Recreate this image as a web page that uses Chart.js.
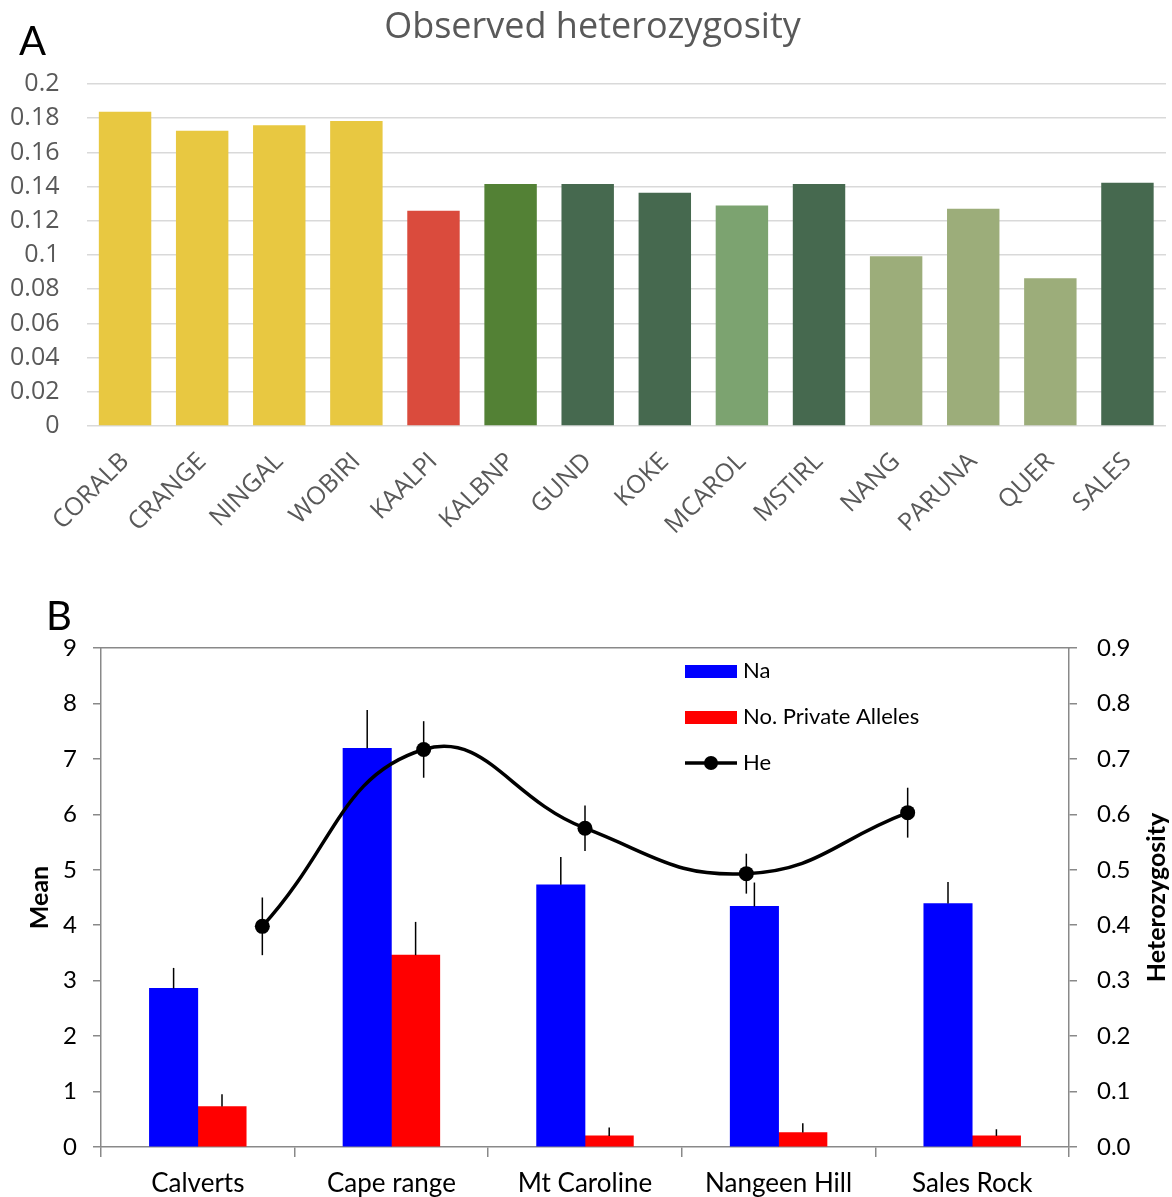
<!DOCTYPE html>
<html>
<head>
<meta charset="utf-8">
<script src="https://cdn.jsdelivr.net/npm/chart.js@4.4.1/dist/chart.umd.min.js"></script>
<style>
    html, body { margin: 0; padding: 0; background: #fff; }
    body { width: 1172px; height: 1197px; position: relative; overflow: hidden; font-family: Lato, sans-serif; }
    .panel { position: absolute; left: 0; }
    .letter { position: absolute; font-size: 40px; color: #000; line-height: 1; }
    #titleA { position: absolute; left: 0; top: 2px; width: 1185px; text-align: center;
              font-family: "Open Sans", sans-serif; font-size: 36px; color: #595959; line-height: 46px; }
</style>
</head>
<body>
<div class="panel" style="top:0; width:1172px; height:560px;">
    <canvas id="chartA" width="1172" height="560"></canvas>
</div>
<div class="panel" style="top:560px; width:1172px; height:637px;">
    <canvas id="chartB" width="1172" height="637"></canvas>
</div>
<div id="titleA">Observed heterozygosity</div>
<div class="letter" style="left:19px; top:20px;">A</div>
<div class="letter" style="left:46px; top:595px;">B</div>

<script>
// Panel A: observed heterozygosity per population
const popLabels = ['CORALB', 'CRANGE', 'NINGAL', 'WOBIRI', 'KAALPI', 'KALBNP', 'GUND',
                   'KOKE', 'MCAROL', 'MSTIRL', 'NANG', 'PARUNA', 'QUER', 'SALES'];
const hoValues = [0.1838, 0.1727, 0.1759, 0.1784, 0.1259, 0.1415, 0.1415,
                  0.1364, 0.1290, 0.1415, 0.0992, 0.1271, 0.0864, 0.1423];
const hoColors = ['#e8c841', '#e8c841', '#e8c841', '#e8c841', '#da4b3d', '#538135', '#46694f',
                  '#46694f', '#7ca370', '#46694f', '#9cad7a', '#9cad7a', '#9cad7a', '#46694f'];

// Panel B: per-site means with standard errors
const sites = ['Calverts', 'Cape range', 'Mt Caroline', 'Nangeen Hill', 'Sales Rock'];
const naMean = [2.86, 7.19, 4.73, 4.34, 4.39];
const naErr = [0.37, 0.69, 0.50, 0.43, 0.39];
const paMean = [0.73, 3.46, 0.20, 0.26, 0.20];
const paErr = [0.22, 0.60, 0.15, 0.17, 0.12];
const heMean = [0.398, 0.717, 0.575, 0.493, 0.603];
const heErr = [0.052, 0.051, 0.041, 0.036, 0.045];

const axisGray = '#898989';

(function() {
    const ctxA = document.getElementById('chartA').getContext('2d');
    new Chart(ctxA, {
        type: 'bar',
        data: {
            labels: popLabels,
            datasets: [{
                data: hoValues,
                backgroundColor: hoColors,
                borderWidth: 0,
                barPercentage: 0.68,
                categoryPercentage: 1
            }]
        },
        options: {
            responsive: false,
            animation: false,
            layout: { padding: { top: 84, right: 6, left: 0, bottom: 0 } },
            plugins: { legend: { display: false }, tooltip: { enabled: false } },
            scales: {
                x: {
                    grid: { display: false },
                    border: { display: false },
                    ticks: {
                        autoSkip: false, minRotation: 45, maxRotation: 45,
                        font: { family: 'Open Sans', size: 25 }, color: '#595959', padding: 13
                    },
                    afterFit: function(s) { s.height = 134; }
                },
                y: {
                    min: 0, max: 0.2,
                    ticks: {
                        stepSize: 0.02,
                        font: { family: 'Open Sans', size: 25 }, color: '#595959', padding: 27,
                        callback: function(v) { return String(parseFloat(v.toFixed(2))); }
                    },
                    grid: { color: '#d9d9d9', lineWidth: 1.5, drawTicks: false },
                    border: { display: false },
                    afterFit: function(s) { s.width = 86.5; }
                }
            }
        }
    });

    // error bars: up only for bars, both ways for the He points
    const errorBars = {
        id: 'errorBars',
        afterDatasetsDraw: function(chart) {
            const ctx = chart.ctx;
            ctx.save();
            ctx.strokeStyle = '#000';
            ctx.lineWidth = 1.5;
            chart.data.datasets.forEach(function(ds, i) {
                const meta = chart.getDatasetMeta(i);
                const yScale = chart.scales[ds.yAxisID];
                meta.data.forEach(function(el, j) {
                    const v = ds.type === 'line' ? ds.data[j].y : ds.data[j];
                    const top = yScale.getPixelForValue(v + ds.errors[j]);
                    const bottom = ds.type === 'line' ? yScale.getPixelForValue(v - ds.errors[j]) : el.y;
                    ctx.beginPath();
                    ctx.moveTo(el.x, top);
                    ctx.lineTo(el.x, bottom);
                    ctx.stroke();
                });
            });
            ctx.restore();
        }
    };

    // legend inside the plot area and right axis title (reads upward)
    const extras = {
        id: 'extras',
        afterDraw: function(chart) {
            const ctx = chart.ctx;
            const ds = chart.data.datasets;
            const lx = 685, tx = 743;
            ctx.save();
            ctx.font = '22px Lato';
            ctx.textBaseline = 'middle';
            ctx.fillStyle = ds[1].backgroundColor;
            ctx.fillRect(lx, 105, 52, 13);
            ctx.fillStyle = ds[2].backgroundColor;
            ctx.fillRect(lx, 151, 52, 13);
            ctx.strokeStyle = '#000';
            ctx.lineWidth = 3.5;
            ctx.beginPath();
            ctx.moveTo(lx, 203);
            ctx.lineTo(lx + 52, 203);
            ctx.stroke();
            ctx.fillStyle = '#000';
            ctx.beginPath();
            ctx.arc(lx + 26, 203, 7, 0, Math.PI * 2);
            ctx.fill();
            ctx.fillText(ds[1].label, tx, 111);
            ctx.fillText(ds[2].label, tx, 157);
            ctx.fillText(ds[0].label, tx, 203);

            const area = chart.chartArea;
            ctx.translate(1157, (area.top + area.bottom) / 2);
            ctx.rotate(-Math.PI / 2);
            ctx.font = 'bold 25px Lato';
            ctx.textAlign = 'center';
            ctx.fillText('Heterozygosity', 0, 0);
            ctx.restore();
        }
    };

    const ctxB = document.getElementById('chartB').getContext('2d');
    new Chart(ctxB, {
        type: 'bar',
        data: {
            labels: sites,
            datasets: [
                {
                    type: 'line',
                    label: 'He',
                    data: heMean.map(function(v, i) { return { x: i + 1, y: v }; }),
                    errors: heErr,
                    xAxisID: 'x2',
                    yAxisID: 'y1',
                    borderColor: '#000',
                    backgroundColor: '#000',
                    borderWidth: 3.5,
                    pointRadius: 7.5,
                    pointBorderWidth: 0,
                    tension: 0.45,
                    fill: false,
                    order: 0
                },
                {
                    label: 'Na',
                    data: naMean,
                    errors: naErr,
                    xAxisID: 'x',
                    yAxisID: 'y',
                    backgroundColor: '#0000ff',
                    borderWidth: 0,
                    barPercentage: 1,
                    categoryPercentage: 1,
                    order: 1
                },
                {
                    label: 'No. Private Alleles',
                    data: paMean,
                    errors: paErr,
                    xAxisID: 'x',
                    yAxisID: 'y',
                    backgroundColor: '#ff0000',
                    borderWidth: 0,
                    barPercentage: 1,
                    categoryPercentage: 1,
                    order: 1
                }
            ]
        },
        options: {
            responsive: false,
            animation: false,
            layout: { padding: { top: 88, right: 0, left: 0, bottom: 0 } },
            plugins: { legend: { display: false }, tooltip: { enabled: false } },
            scales: {
                x: {
                    type: 'category',
                    offset: true,
                    grid: { offset: true, drawOnChartArea: false, tickLength: 10, color: axisGray, lineWidth: 1.5 },
                    border: { color: axisGray, width: 1.5 },
                    ticks: { font: { family: 'Lato', size: 26 }, color: '#000', padding: 11 },
                    afterFit: function(s) { s.height = 50; }
                },
                x2: {
                    type: 'linear',
                    position: 'top',
                    offset: false,
                    min: 0, max: 6,
                    ticks: { display: false },
                    grid: { display: false },
                    border: { display: true, color: axisGray, width: 1.5 },
                    afterFit: function(s) { s.height = 0; }
                },
                y: {
                    position: 'left',
                    min: 0, max: 9,
                    ticks: { stepSize: 1, font: { family: 'Lato', size: 24 }, color: '#000', padding: 16 },
                    grid: { drawOnChartArea: false, tickLength: 8, color: axisGray, lineWidth: 1.5 },
                    border: { color: axisGray, width: 1.5 },
                    title: {
                        display: true, text: 'Mean', color: '#000',
                        font: { family: 'Lato', size: 25, weight: 'bold' }, padding: { top: 25 }
                    },
                    afterFit: function(s) { s.width = 101; }
                },
                y1: {
                    position: 'right',
                    min: 0, max: 0.9,
                    ticks: {
                        stepSize: 0.1, font: { family: 'Lato', size: 24 }, color: '#000', padding: 20,
                        callback: function(v) { return v.toFixed(1); }
                    },
                    grid: { drawOnChartArea: false, tickLength: 8, color: axisGray, lineWidth: 1.5 },
                    border: { color: axisGray, width: 1.5 },
                    afterFit: function(s) { s.width = 103; }
                }
            }
        },
        plugins: [errorBars, extras]
    });
})();
</script>
</body>
</html>
